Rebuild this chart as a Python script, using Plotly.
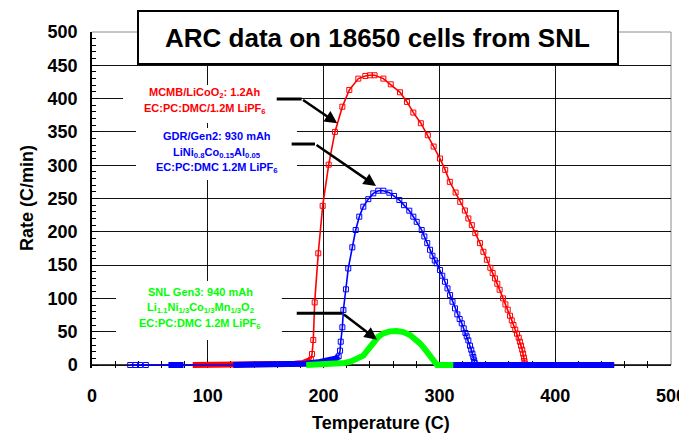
import plotly.graph_objects as go

# ---------------- data ----------------
# MCMB/LiCoO2 (red)
red_band_t = [87, 122, 150, 165, 175, 182, 186, 189]
red_band_rate = [0, 0, 0, 1, 2, 3, 5, 8]
red_t = [189, 190, 191.1, 192.3, 195.4, 199.2, 204.4, 209.8, 216.2, 222.2, 230, 236, 240, 244,
         251.6, 258, 266, 272, 277.5, 284, 290, 295, 300.5, 305, 309, 314, 318, 322, 325,
         328, 331, 335, 338, 341, 344, 346, 348, 350, 352, 355, 357, 359, 361, 362.5, 364,
         365.5, 367, 368.5, 369.5, 370.5, 371.5, 372.3, 373, 373.5, 373.8]
red_rate = [8, 16.5, 37.5, 94, 167.7, 239, 300.8, 350, 387.8, 413, 430, 434, 435, 435,
            430, 421.5, 409.5, 395, 379, 363, 345, 328, 310, 293, 275, 259, 245, 232, 220,
            210, 198, 183, 170, 158, 146, 138, 130, 122, 113, 100, 91, 83, 74, 67, 60,
            53, 47, 41, 35, 29, 23, 17, 11, 6, 2]

# GDR/Gen2 (blue)
blue_early_t = [33, 37.5, 41.5, 46.5]
blue_early_rate = [0, 0, 0, 0]
blue_link_t = [46.5, 66, 79, 122]
blue_link_rate = [0, 0, 0, 0]
blue_band1_t = [66, 79]
blue_band1_rate = [0, 0]
blue_band2_t = [122, 170, 185, 195, 203, 208, 211, 213]
blue_band2_rate = [0, 0, 2, 4, 6, 8, 10, 13]
blue_t = [213, 214.2, 214.8, 216.2, 217.1, 219.3, 221.3, 224.8, 227.7, 230.8, 234.3, 238.6,
          242.9, 247.2, 251.6, 256.8, 260.8, 265.4, 269.4, 274, 277.5, 280.4, 284.7, 287,
          289.5, 291.9, 294, 296, 297.7, 300.5, 302.5, 304.8, 307, 309.2, 311.3, 313.5, 315.5,
          317.5, 319.3, 321, 322.5, 323.6, 325, 326.4, 327.5, 328.5, 329.3, 330, 330.5, 331]
blue_rate = [13, 21.5, 35, 56.6, 82.6, 113.6, 145, 176.7, 202.7, 222.7, 237.7, 249,
             257.7, 261.7, 261.7, 258.7, 253.8, 247.7, 240, 231.7, 222.7, 215, 202.7, 193,
             183, 173, 164, 157, 152.7, 142.6, 134, 125, 115, 105, 95, 85, 76,
             69, 62.6, 55, 48, 43, 37, 29, 23, 17, 12, 7, 3, 0]
blue_tail_t = [298, 451]
blue_tail_rate = [0, 0]

# SNL Gen3 (green)
green_t = [185, 200, 210, 218, 223, 228, 231.4, 234.3, 237, 240, 243, 247, 251.6, 257,
           263.2, 269, 274.6, 279, 283.2, 287, 290.4, 292.5, 294.7, 296.5, 298, 312]
green_rate = [0, 0.5, 1.5, 3, 5, 8, 10, 14, 20, 27, 35, 42, 47.5, 50.5,
              51, 49.5, 45, 39, 32.5, 25, 17.5, 11, 5, 1.5, 0, 0]

# label arrows: start, corner, head (temperature, rate)
red_arrow = [(159.5, 399.4), (181, 399.4), (211.8, 362.9)]
blue_arrow = [(172.4, 331.8), (192.6, 331.8), (245.3, 268.8)]
green_arrow = [(176.8, 77.6), (216.3, 77.6), (246.1, 38)]

x_ticks = [0, 100, 200, 300, 400, 500]
y_ticks = [0, 50, 100, 150, 200, 250, 300, 350, 400, 450, 500]

RED = "#FF0000"
BLUE = "#0000FF"
GREEN = "#00FF00"
FONT = "Liberation Sans, Arial, sans-serif"

# layout geometry (pixels); the page body adds an 8px offset
OFF = 8
W, H = 687 - OFF, 436 - OFF
ML, MR, MT, MB = 92 - OFF, 16, 32 - OFF, 68
PW, PH = W - ML - MR, H - MT - MB


def px(xp):
    return (xp - OFF - ML) / PW


def py(yp):
    return (H - MB - (yp - OFF)) / PH


fig = go.Figure()


def band(t, r, c):
    fig.add_trace(go.Scatter(x=t, y=r, mode="lines", line=dict(color=c, width=6),
                             hoverinfo="skip"))


def curve(t, r, c):
    fig.add_trace(go.Scatter(x=t, y=r, mode="lines+markers", line=dict(color=c, width=1.6),
                             marker=dict(symbol="square-open", size=5, color=c,
                                         line=dict(width=1, color=c)),
                             cliponaxis=False))


# red
band(red_band_t, red_band_rate, RED)
curve(red_t, red_rate, RED)
# blue
curve(blue_early_t, blue_early_rate, BLUE)
fig.add_trace(go.Scatter(x=blue_link_t, y=blue_link_rate, mode="lines",
                         line=dict(color=BLUE, width=1.6)))
band(blue_band1_t, blue_band1_rate, BLUE)
band(blue_band2_t, blue_band2_rate, BLUE)
curve(blue_t, blue_rate, BLUE)
band(blue_tail_t, blue_tail_rate, BLUE)
# green
band(green_t, green_rate, GREEN)

shapes = []
# grey frame (top and right)
shapes.append(dict(type="line", xref="paper", yref="paper", x0=0, x1=1, y0=1, y1=1,
                   line=dict(color="#8a8a8a", width=1), layer="below"))
shapes.append(dict(type="line", xref="paper", yref="y", x0=1, x1=1, y0=0, y1=500,
                   line=dict(color="#8a8a8a", width=1), layer="below"))
# x axis line at rate 0
shapes.append(dict(type="line", xref="paper", yref="y", x0=0, x1=1, y0=0, y1=0,
                   line=dict(color="black", width=1.5), layer="between"))
# white label boxes
for (x0, x1, y0, y1) in [(26.8, 159.8, 363.3, 420.4), (38, 177, 277.8, 355.9),
                         (20.7, 164, 37.5, 126)]:
    shapes.append(dict(type="rect", xref="x", yref="y", x0=x0, x1=x1, y0=y0, y1=y1,
                       fillcolor="white", line=dict(width=0), layer="between"))

annotations = []
for arr in [red_arrow, blue_arrow, green_arrow]:
    (sx, sy), (cx, cy), (hx, hy) = arr
    shapes.append(dict(type="line", xref="x", yref="y", x0=sx, y0=sy, x1=cx, y1=cy,
                       line=dict(color="black", width=3)))
    annotations.append(dict(x=hx, y=hy, ax=cx, ay=cy, xref="x", yref="y", axref="x",
                            ayref="y", showarrow=True, arrowhead=2, arrowsize=1,
                            arrowwidth=2.5, arrowcolor="black", text=""))

# title box
shapes.append(dict(type="rect", xref="paper", yref="paper",
                   x0=px(138), x1=px(618), y0=py(64), y1=py(11),
                   fillcolor="white", line=dict(color="black", width=2), layer="above"))


def label(x, y, text, color):
    annotations.append(dict(x=x, y=y, xref="x", yref="y", text=text, showarrow=False,
                            font=dict(family=FONT, size=11, color=color, weight="bold"),
                            xanchor="center", yanchor="middle"))


label(97.6, 408, "MCMB/LiCoO<sub>2</sub>: 1.2Ah", RED)
label(97.6, 384, "EC:PC:DMC/1.2M LiPF<sub>6</sub>", RED)
label(108, 343.8, "GDR/Gen2: 930 mAh", BLUE)
label(108, 318.8, "LiNi<sub>0.8</sub>Co<sub>0.15</sub>Al<sub>0.05</sub>", BLUE)
label(108, 295.3, "EC:PC:DMC 1.2M LiPF<sub>6</sub>", BLUE)
label(93.3, 110, "SNL Gen3: 940 mAh", GREEN)
label(93.3, 85, "Li<sub>1.1</sub>Ni<sub>1/3</sub>Co<sub>1/3</sub>Mn<sub>1/3</sub>O<sub>2</sub>", GREEN)
label(93.3, 61.5, "EC:PC:DMC 1.2M LiPF<sub>6</sub>", GREEN)

bold18 = dict(family=FONT, size=18, color="black", weight="bold")
annotations.append(dict(x=px(377), y=py(38), xref="paper", yref="paper",
                        text="ARC data on 18650 cells from SNL", showarrow=False,
                        font=dict(family=FONT, size=26, color="black", weight="bold"),
                        xanchor="center", yanchor="middle"))
annotations.append(dict(x=px(381), y=py(423), xref="paper", yref="paper",
                        text="Temperature (C)", showarrow=False, font=bold18,
                        xanchor="center", yanchor="middle"))
annotations.append(dict(x=px(27), y=py(198), xref="paper", yref="paper",
                        text="Rate (C/min)", showarrow=False, font=bold18, textangle=-90,
                        xanchor="center", yanchor="middle"))

fig.update_layout(
    width=W, height=H,
    margin=dict(l=ML, r=MR, t=MT, b=MB, autoexpand=False),
    paper_bgcolor="white", plot_bgcolor="white",
    showlegend=False,
    shapes=shapes, annotations=annotations,
    font=dict(family=FONT, color="black"),
    xaxis=dict(range=[0, 500], tickvals=x_ticks, ticks="inside", ticklen=9,
               tickcolor="black", showgrid=True, gridcolor="#111", gridwidth=1,
               showline=False, zeroline=False, automargin=False,
               layer="below traces", tickfont=bold18, ticklabelstandoff=15,
               minor=dict(dtick=20, ticks="inside", ticklen=7, tickcolor="black",
                          showgrid=False)),
    yaxis=dict(range=[-4.5, 500], tickvals=y_ticks, ticks="inside", ticklen=6,
               tickcolor="black", showgrid=True, gridcolor="#111", gridwidth=1,
               showline=True, linecolor="black", linewidth=1.5, zeroline=False,
               automargin=False, layer="below traces", tickfont=bold18,
               ticklabelstandoff=9,
               minor=dict(dtick=10, ticks="inside", ticklen=4, tickcolor="black",
                          showgrid=False)),
)

fig.write_html("out.html")
